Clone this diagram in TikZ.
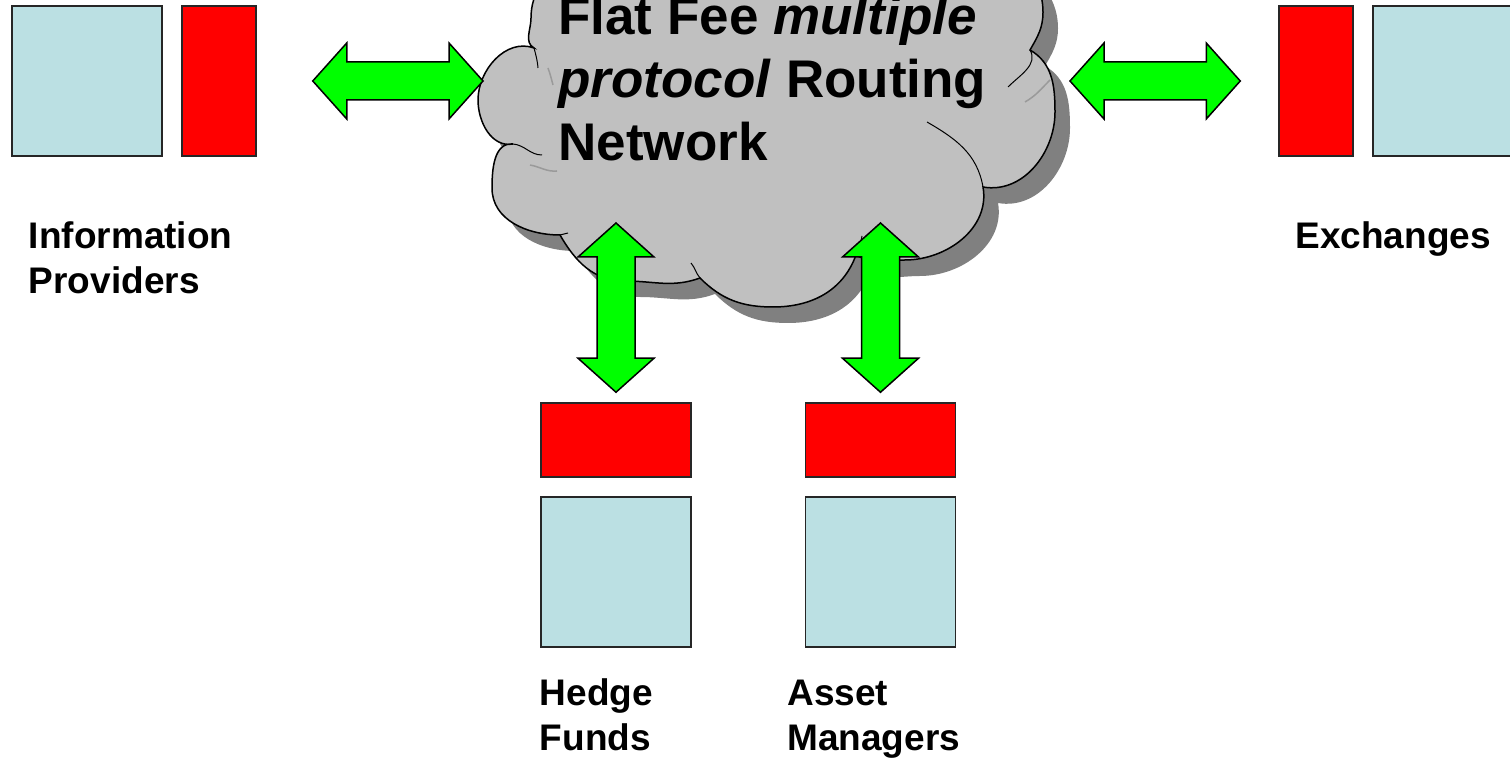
\documentclass[tikz,border=0pt]{standalone}
\usepackage{fontspec}
\setmainfont{Liberation Sans}
\usetikzlibrary{positioning,calc}

\definecolor{screenblue}{HTML}{BBE0E3}
\definecolor{feedred}{HTML}{FF0000}
\definecolor{arrowgreen}{HTML}{00FF00}
\definecolor{cloudgray}{HTML}{C0C0C0}
\definecolor{shadowgray}{HTML}{808080}
\definecolor{creasegray}{HTML}{9A9A9A}

\tikzset{
  screen/.style={fill=screenblue, minimum width=75pt, minimum height=75pt},
  feedtall/.style={fill=feedred, minimum width=37pt, minimum height=75pt},
  feedwide/.style={fill=feedred, minimum width=75pt, minimum height=37pt},
  boxlabel/.style={font=\fontsize{18.5pt}{22.5pt}\selectfont\bfseries,
    align=left, anchor=base west, inner sep=0},
  fatarrow/.style={draw=black, fill=arrowgreen, line width=0.75pt, line join=miter,
    to path={
      -- ($(\tikztostart)!17pt!(\tikztotarget)!19pt!90:(\tikztotarget)$)
      -- ($(\tikztostart)!17pt!(\tikztotarget)!9.5pt!90:(\tikztotarget)$)
      -- ($(\tikztotarget)!17pt!(\tikztostart)!9.5pt!-90:(\tikztostart)$)
      -- ($(\tikztotarget)!17pt!(\tikztostart)!19pt!-90:(\tikztostart)$)
      -- (\tikztotarget)
      -- ($(\tikztotarget)!17pt!(\tikztostart)!19pt!90:(\tikztostart)$)
      -- ($(\tikztotarget)!17pt!(\tikztostart)!9.5pt!90:(\tikztostart)$)
      -- ($(\tikztostart)!17pt!(\tikztotarget)!9.5pt!-90:(\tikztotarget)$)
      -- ($(\tikztostart)!17pt!(\tikztotarget)!19pt!-90:(\tikztotarget)$)
      -- cycle}}
}

% outline of the network cloud (top part runs off the page)
\newcommand{\netcloud}{%
  (640,-55) to[out=180,in=90] (531,18) to[out=270,in=150] (534,48)
  to[out=160,in=90] (478,100) to[out=270,in=190] (513,144)
  to[out=175,in=90] (492,188) to[out=270,in=180] (560,235)
  to[out=-60,in=180] (625,281) to[out=0,in=200] (700,278)
  to[out=-45,in=180] (773,307) to[out=0,in=-110] (856,255)
  to[out=-30,in=180] (905,260) to[out=0,in=-80] (983,187)
  to[out=-10,in=270] (1055,112) to[out=90,in=-30] (1030,50)
  to[out=60,in=270] (1043,12) to[out=90,in=0] (960,-60)
  -- cycle}

\begin{document}
\begin{tikzpicture}[x=0.5pt,y=-0.5pt]

        \useasboundingbox (0,0) rectangle (1510,758);
        \clip (0,0) rectangle (1510,758);

        % cloud and its shadow
        \fill[shadowgray, shift={(15,16)}] \netcloud;
        \filldraw[fill=cloudgray, draw=black, line width=0.75pt] \netcloud;

        \begin{scope}[line width=0.5pt]
          \draw (534,48) to[out=-75,in=95] (538,68);
          \draw (513,144) to[out=-5,in=180] (542,155);
          \draw (560,235) -- (568,233);
          \draw (700,278) to[out=130,in=-50] (691,263);
          \draw (856,255) to[out=70,in=-100] (862,236);
          \draw (983,187) to[out=100,in=-30] (927,122);
          \draw (1030,50) to[out=-60,in=45] (1008,87);
        \end{scope}
        \begin{scope}[draw=creasegray, line width=0.75pt]
          \draw (548,68) to[out=-70,in=105] (553,85);
          \draw (530,165) to[out=-10,in=185] (557,171);
          \draw (1025,102) to[out=30,in=-135] (1050,80);
        \end{scope}

        \node[font=\fontsize{26.5pt}{31.5pt}\selectfont\bfseries, align=left,
              anchor=base west, inner sep=0] (netLabel) at (558,161)
          {Flat Fee \textit{multiple}\\\textit{protocol} Routing\\Network};

        \begin{scope}[every node/.style={draw=black!85, line width=0.75pt, inner sep=0}]
          \node[screen]   (ipScreen) at (87,81)    {};
          \node[feedtall] (ipFeed)   at (219,81)   {};
          \node[feedtall] (exFeed)   at (1316,81)  {};
          \node[screen]   (exScreen) at (1448,81)  {};
          \node[feedwide] (hfFeed)   at (616,440)  {};
          \node[screen]   (hfScreen) at (616,572)  {};
          \node[feedwide] (amFeed)   at (880.5,440) {};
          \node[screen]   (amScreen) at (880.5,572) {};
        \end{scope}

        \node[boxlabel] (ipLabel) at (28.5,294) {Information\\Providers};
        \node[boxlabel] (exLabel) at (1295,249) {Exchanges};
        \node[boxlabel] (hfLabel) at (539.5,750) {Hedge\\Funds};
        \node[boxlabel] (amLabel) at (787,750) {Asset\\Managers};

        % free ends of the block arrows
        \coordinate[right=28pt of ipFeed] (ipEnd);
        \coordinate (ipCloud) at (483,81);
        \coordinate[left=19pt of exFeed] (exEnd);
        \coordinate (exCloud) at (1070,81);
        \coordinate[above=5pt of hfFeed] (hfEnd);
        \coordinate (hfCloud) at (616,223);
        \coordinate[above=5pt of amFeed] (amEnd);
        \coordinate (amCloud) at (880.5,223);

        \draw[fatarrow] (ipEnd) to (ipCloud);
        \draw[fatarrow] (exCloud) to (exEnd);
        \draw[fatarrow] (hfEnd) to (hfCloud);
        \draw[fatarrow] (amEnd) to (amCloud);

\end{tikzpicture}
\end{document}
